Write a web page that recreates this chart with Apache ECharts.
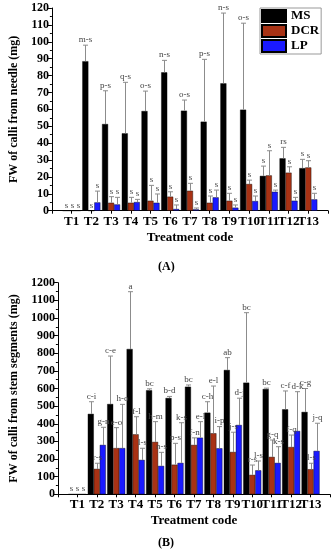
<!DOCTYPE html>
<html><head><meta charset="utf-8">
<script src="https://cdn.jsdelivr.net/npm/echarts@6/dist/echarts.min.js"></script>
<style>html,body{margin:0;padding:0;background:#fff}#c{width:336px;height:550px}</style>
</head><body><div id="c"></div>
<script>
const categories = ['T1','T2','T3','T4','T5','T6','T7','T8','T9','T10','T11','T12','T13'];
const seriesNames = ['MS','DCR','LP'];
// Panel A: FW of calli from needle (mg)
const msA     = [0, 88.5, 51.3, 45.8, 59.0, 81.9, 59.2, 52.7, 75.4, 59.8, 20.6, 31.0, 25.2];
const msAErr  = [0, 9.5, 19.7, 30.2, 11.8, 7.1, 6.3, 36.9, 41.6, 51.2, 5.8, 6.5, 5.2];
const dcrA    = [0, 0, 4.7, 4.7, 5.9, 8.3, 11.8, 4.7, 5.9, 15.8, 20.9, 22.5, 25.6];
const dcrAErr = [0, 0, 3.6, 3.2, 9.1, 2.9, 4.4, 4.0, 4.4, 2.3, 14.6, 3.5, 4.0];
const lpA     = [0, 4.9, 3.7, 5.1, 4.7, 1.0, 0.8, 7.9, 1.8, 5.7, 11.2, 5.9, 6.7];
const lpAErr  = [0, 6.7, 4.2, 1.6, 5.2, 2.4, 0.8, 4.3, 1.6, 3.0, 1.0, 2.0, 3.6];
const msALabels  = ['s','m-s','p-s','q-s','o-s','n-s','o-s','p-s','n-s','o-s','s','rs','s'];
const dcrALabels = ['s','s','s','s','s','s','s','s','s','s','s','s','s'];
const lpALabels  = ['s','s','s','s','s','s','s','s','s','s','s','s','s'];
// Panel B: FW of calli from stem segments (mg)
const msB     = [0, 456, 512, 824, 590, 546, 610, 463, 705, 633, 597, 482, 467];
const msBErr  = [0, 69, 272, 325, 8, 9, 10, 62, 70, 397, 5, 104, 133];
const dcrB    = [0, 144, 262, 340, 297, 168, 280, 346, 240, 110, 212, 268, 142];
const dcrBErr = [0, 32, 116, 100, 115, 121, 40, 268, 112, 56, 96, 68, 34];
const lpB     = [0, 280, 262, 195, 161, 178, 321, 261, 393, 136, 178, 359, 246];
const lpBErr  = [0, 100, 248, 66, 77, 228, 91, 123, 152, 53, 92, 223, 157];
const msBLabels  = ['s','c-i','c-e','a','bc','b-d','bc','c-h','ab','bc','bc','c-f','c-g'];
const dcrBLabels = ['s','r-s','e-o','f-l','h-m','p-s','f-n','e-l','j-s','r-s','g-q','f-q','l-s'];
const lpBLabels  = ['s','g-n','h-o','l-s','n-s','k-s','e-l','i-p','d-j','l-s','k-s','d-k','j-q'];
const yTicksA = {min: 0, max: 120, interval: 10};
const yTicksB = {min: 0, max: 1200, interval: 100};

const FONT = 'Liberation Serif';
const colors = ['#000000', '#a83214', '#1a1aff'];
const BAR_W = 6;
const catPos = categories.map((c, i) => i + 1);

function pairs(vals) { return vals.map((v, i) => [catPos[i], v]); }
function errData(vals, errs) { return vals.map((v, i) => [catPos[i], v, v + errs[i]]); }

function barSeries(k, vals, gi) {
  return {
    name: seriesNames[k], type: 'bar', xAxisIndex: gi, yAxisIndex: gi,
    data: pairs(vals), barWidth: BAR_W, barGap: '0%',
    itemStyle: {color: colors[k], borderColor: '#000', borderWidth: 0.4},
    z: 2
  };
}
function errSeries(vals, errs, labels, offset, gi) {
  return {
    type: 'custom', xAxisIndex: gi, yAxisIndex: gi, silent: true, z: 5,
    data: errData(vals, errs),
    renderItem(params, api) {
      const i = params.dataIndex;
      const p0 = api.coord([api.value(0), api.value(1)]);
      const p1 = api.coord([api.value(0), api.value(2)]);
      const x = Math.round(p0[0] + offset) + 0.5;
      const children = [];
      if (p0[1] - p1[1] > 0.5) {
        children.push({type: 'line', shape: {x1: x, y1: p0[1], x2: x, y2: p1[1]}, style: {stroke: '#8c8c8c', lineWidth: 1}});
        children.push({type: 'line', shape: {x1: x - 2.5, y1: p1[1], x2: x + 2.5, y2: p1[1]}, style: {stroke: '#8c8c8c', lineWidth: 1}});
      }
      children.push({type: 'text', style: {text: labels[i], x: x, y: p1[1] - 1, align: 'center', verticalAlign: 'bottom', font: '9px "Liberation Serif"', fill: '#444'}});
      return {type: 'group', children};
    }
  };
}
// category tick labels drawn at the axis positions
function catLabelSeries(gi) {
  return {
    type: 'custom', xAxisIndex: gi, yAxisIndex: gi, silent: true, z: 6, clip: false,
    data: catPos.map(p => [p, 0]),
    renderItem(params, api) {
      const p = api.coord([api.value(0), 0]);
      return {type: 'text', style: {text: categories[params.dataIndex], x: p[0], y: p[1] + 4,
        align: 'center', verticalAlign: 'top', font: 'bold 13px "Liberation Serif"', fill: '#000'}};
    }
  };
}

function xAxis(gi, min) {
  const ticks = [];
  for (let v = 0; v <= 14; v++) ticks.push(v);
  return {
    gridIndex: gi, type: 'value', min: min, max: 14,
    axisLine: {show: true, lineStyle: {color: '#000', width: 1}},
    axisTick: {show: true, customValues: ticks, length: 3, lineStyle: {color: '#000'}},
    splitLine: {show: false},
    axisLabel: {show: false},
    name: 'Treatment code', nameLocation: 'middle', nameGap: 20,
    nameTextStyle: {fontFamily: FONT, fontWeight: 'bold', fontSize: 13, color: '#000'}
  };
}
function yAxis(gi, t, name) {
  return {
    gridIndex: gi, type: 'value', min: t.min, max: t.max, interval: t.interval,
    axisLine: {show: true, lineStyle: {color: '#000', width: 1}},
    axisTick: {show: true, length: 4, lineStyle: {color: '#000'}},
    minorTick: {show: true, splitNumber: 2, length: 2, lineStyle: {color: '#000'}},
    splitLine: {show: false},
    axisLabel: {formatter: v => String(v), fontFamily: FONT, fontWeight: 'bold', fontSize: 12, color: '#000', margin: 3},
    name: name, nameLocation: 'middle', nameGap: 30,
    nameTextStyle: {fontFamily: FONT, fontWeight: 'bold', fontSize: 12, color: '#000'}
  };
}

const option = {
  backgroundColor: '#fff',
  animation: false,
  grid: [
    {left: 48, right: 8, top: 8, height: 202.7},
    {left: 44, right: 6, top: 282.7, height: 211.6}
  ],
  xAxis: [xAxis(0, 0), xAxis(1, 0)],
  yAxis: [yAxis(0, yTicksA, 'FW of calli from needle (mg)'), yAxis(1, yTicksB, 'FW of calli from stem segments (mg)')],
  legend: {
    data: seriesNames, orient: 'vertical', left: 260, top: 8,
    itemWidth: 24, itemHeight: 12, itemGap: 1, itemTextGap: 3,
    padding: [1, 2, 1, 1], borderColor: '#999', borderWidth: 1,
    icon: 'rect',
    textStyle: {fontFamily: FONT, fontWeight: 'bold', fontSize: 13, color: '#000'}
  },
  graphic: [
    {type: 'text', left: 158, top: 261, style: {text: '(A)', font: 'bold 12px "Liberation Serif"', fill: '#000'}},
    {type: 'text', left: 158, top: 537, style: {text: '(B)', font: 'bold 12px "Liberation Serif"', fill: '#000'}}
  ],
  series: [
    barSeries(0, msA, 0), barSeries(1, dcrA, 0), barSeries(2, lpA, 0),
    errSeries(msA, msAErr, msALabels, -BAR_W, 0),
    errSeries(dcrA, dcrAErr, dcrALabels, 0, 0),
    errSeries(lpA, lpAErr, lpALabels, BAR_W, 0),
    catLabelSeries(0),
    barSeries(0, msB, 1), barSeries(1, dcrB, 1), barSeries(2, lpB, 1),
    errSeries(msB, msBErr, msBLabels, -BAR_W, 1),
    errSeries(dcrB, dcrBErr, dcrBLabels, 0, 1),
    errSeries(lpB, lpBErr, lpBLabels, BAR_W, 1),
    catLabelSeries(1)
  ]
};
const chart = echarts.init(document.getElementById('c'), null, {renderer: 'canvas'});
chart.setOption(option);
</script></body></html>
